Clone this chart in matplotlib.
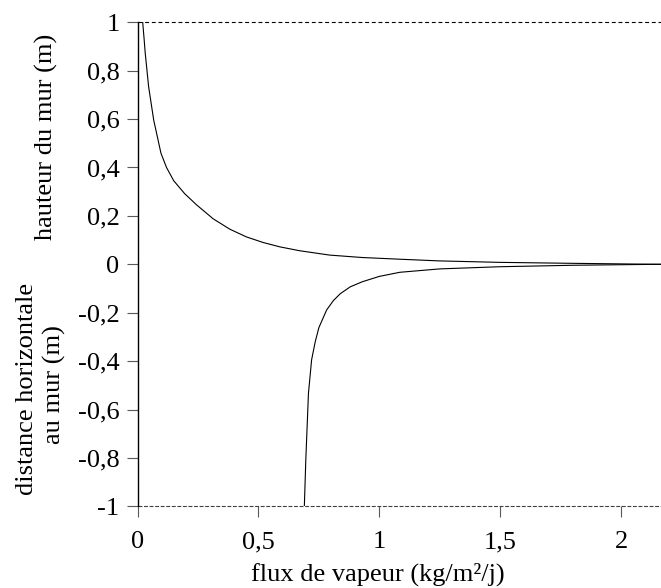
import matplotlib
matplotlib.use("Agg")
import matplotlib.pyplot as plt

# Upper curve: wall height vs vapour flux
flux_top = [0.0215, 0.027, 0.032, 0.046, 0.067, 0.097, 0.120, 0.150, 0.195, 0.245,
            0.313, 0.382, 0.451, 0.520, 0.589, 0.671, 0.795, 0.930, 1.085, 1.250,
            1.498, 1.800, 2.064, 2.165]
hauteur = [1.0, 0.935, 0.872, 0.734, 0.596, 0.459, 0.400, 0.345, 0.292, 0.245,
           0.188, 0.145, 0.113, 0.090, 0.072, 0.056, 0.038, 0.028, 0.021, 0.014,
           0.008, 0.004, 0.001, 0.0]

# Lower curve: horizontal distance to wall vs vapour flux
flux_bot = [0.690, 0.696, 0.707, 0.720, 0.735, 0.750, 0.782, 0.810, 0.838, 0.880,
            0.930, 1.000, 1.085, 1.250, 1.500, 1.800, 2.064, 2.165]
distance = [-1.0, -0.81, -0.533, -0.395, -0.320, -0.262, -0.189, -0.150, -0.122,
            -0.093, -0.072, -0.050, -0.033, -0.019, -0.010, -0.004, -0.001, 0.0]

xticks = [0, 0.5, 1, 1.5, 2]
xticklabels = ["0", "0,5", "1", "1,5", "2"]
yticks = [-1, -0.8, -0.6, -0.4, -0.2, 0, 0.2, 0.4, 0.6, 0.8, 1]
yticklabels = ["-1", "-0,8", "-0,6", "-0,4", "-0,2", "0", "0,2", "0,4", "0,6", "0,8", "1"]

plt.rcParams['font.family'] = ['Liberation Serif', 'DejaVu Serif']

W, H = 661, 588
fig = plt.figure(figsize=(W / 100, H / 100), dpi=100)
left, right, top, bottom = 137.5, 661, 22.3, 506.3
ax = fig.add_axes([left / W, 1 - bottom / H, (right - left) / W, (bottom - top) / H])

ax.plot(flux_top, hauteur, color="black", lw=0.8)
ax.plot(flux_bot, distance, color="black", lw=0.8)

ax.axhline(1, color="black", lw=0.8, dashes=(3.5, 2.5), clip_on=False)
ax.axhline(-1, color="0.25", lw=0.8, dashes=(3.5, 1.5), clip_on=False)

ax.set_xlim(0, 2.165)
ax.set_ylim(-1, 1)
for s in ["top", "right", "bottom"]:
    ax.spines[s].set_visible(False)
ax.spines["left"].set_linewidth(1.0)
ax.spines["left"].set_color("black")

ax.set_xticks(xticks)
ax.set_xticklabels(xticklabels)
ax.set_yticks(yticks)
ax.set_yticklabels(yticklabels)
ax.tick_params(axis="both", direction="out", length=8, width=0.8, color="0.35",
               labelsize=19, labelcolor="black")
ax.tick_params(axis="y", pad=5)
ax.tick_params(axis="x", pad=10)

fs = 19
fig.text(46 / W, 1 - 137 / H, "hauteur du mur (m)", rotation=90, ha="center",
         va="center", fontsize=fs)
fig.text(27 / W, 1 - 389 / H, "distance horizontale", rotation=90, ha="center",
         va="center", fontsize=fs)
fig.text(54 / W, 1 - 385 / H, "au mur (m)", rotation=90, ha="center",
         va="center", fontsize=fs)
fig.text(378 / W, 1 - 574 / H, "flux de vapeur (kg/m²/j)", ha="center",
         va="center", fontsize=fs)

fig.savefig("out.png", dpi=100)
